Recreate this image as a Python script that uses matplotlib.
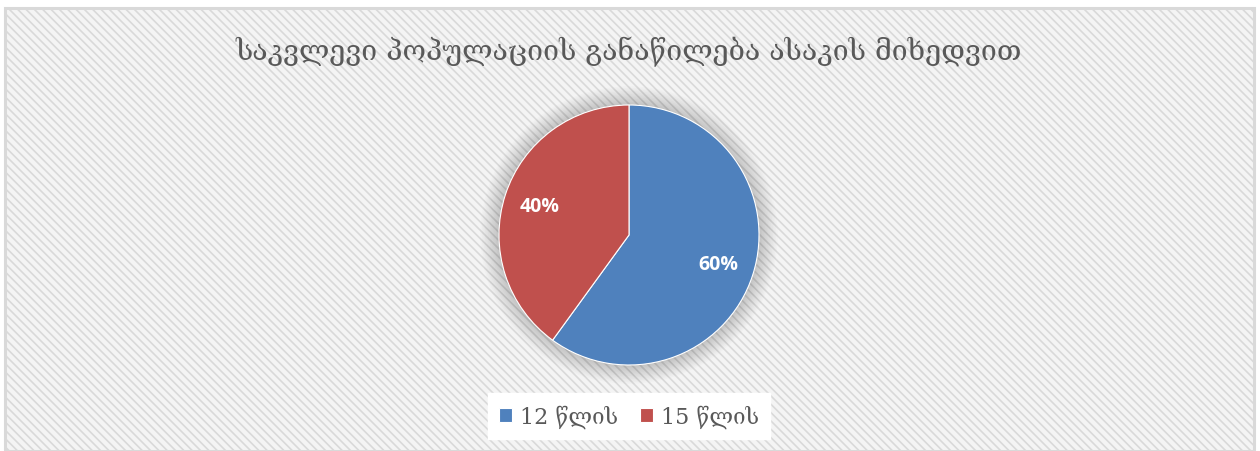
import matplotlib
matplotlib.use("Agg")
import matplotlib.pyplot as plt
from matplotlib.patches import Rectangle, Circle

# data
title = "საკვლევი პოპულაციის განაწილება ასაკის მიხედვით"
labels = ["12 წლის", "15 წლის"]
shares = [60, 40]
colors = ["#4F81BD", "#C0504D"]

W, H = 1260, 452
georgian = ["DejaVu Serif", "DejaVu Sans"]

plt.rcParams["hatch.linewidth"] = 1.2
plt.rcParams["hatch.color"] = "#ffffff"

fig = plt.figure(figsize=(W / 100, H / 100), dpi=100)
fig.patch.set_facecolor("white")

# chart area: light striped background with grey frame
bg = Rectangle((5 / W, 0), 1249 / W, (H - 9) / H, transform=fig.transFigure,
               facecolor="#f4f4f4", edgecolor="#d9d9d9", linewidth=2.2,
               hatch="\\\\\\\\", zorder=-5)
fig.patches.append(bg)

fig.text(629 / W, 1 - 52 / H, title, ha="center", va="center",
         fontsize=20.5, color="#595959", family=georgian)

# pie, centred at (629, 236) px with 130 px radius
r_px = 130
ax = fig.add_axes([(629 - r_px) / W, (H - 236 - r_px) / H,
                   2 * r_px / W, 2 * r_px / H])
ax.axis("off")

# soft shadow round the pie
for i in range(12):
    ax.add_patch(Circle((0, 0), 1.0 + 0.012 * (i + 1), facecolor="#000000",
                        alpha=0.014, edgecolor="none", zorder=0,
                        clip_on=False))

wedges, texts, autotexts = ax.pie(
    shares, colors=colors, startangle=90, counterclock=False,
    autopct="%1.0f%%", pctdistance=0.72, radius=1.0,
    wedgeprops=dict(linewidth=0.8, edgecolor="white"),
    textprops=dict(color="white", fontsize=14, fontweight="bold",
                   family="Open Sans"))
for w in wedges:
    w.set_zorder(2)
    w.set_clip_on(False)
for t in autotexts:
    t.set_zorder(3)
ax.set_xlim(-1, 1)
ax.set_ylim(-1, 1)

# legend with a white box
leg = fig.legend(wedges, labels, loc="center", bbox_to_anchor=(629 / W, 1 - 417 / H),
                 ncol=2, frameon=True, fancybox=False, handlelength=0.6,
                 handleheight=0.6, handletextpad=0.35, columnspacing=1.0,
                 borderpad=0.5, prop=dict(family=georgian, size=16))
leg.get_frame().set_facecolor("white")
leg.get_frame().set_edgecolor("white")
leg.get_frame().set_alpha(1)
for t in leg.get_texts():
    t.set_color("#595959")

fig.savefig("out.png", dpi=100)
